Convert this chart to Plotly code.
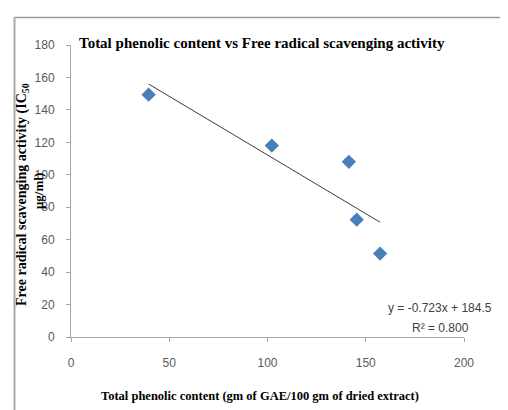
import plotly.graph_objects as go

# Data
phenolic = [39.5, 102.2, 141.4, 145.4, 157.3]
scavenging = [149.4, 118.0, 108.0, 72.3, 51.4]
slope = -0.723
intercept = 184.5
r_squared = 0.800
x_ticks = [0, 50, 100, 150, 200]
y_ticks = [0, 20, 40, 60, 80, 100, 120, 140, 160, 180]

trend_x = [min(phenolic), max(phenolic)]
trend_y = [slope * v + intercept for v in trend_x]

W, H = 508, 410
L, R, T, B = 63, 52, 37, 81
pw, ph = W - L - R, H - T - B


def px(xpix):
    return (xpix - L) / pw


def py(ypix):
    return (H - B - ypix) / ph


fig = go.Figure()
fig.add_trace(go.Scatter(x=trend_x, y=trend_y, mode="lines",
                         line=dict(color="#3a3a3a", width=1), hoverinfo="skip"))
fig.add_trace(go.Scatter(x=phenolic, y=scavenging, mode="markers",
                         marker=dict(symbol="diamond", size=11, color="#4a7ebb",
                                     line=dict(width=0))))

tick_font = dict(family="Liberation Sans, Arial, sans-serif", size=12, color="#595959")
fig.update_layout(
    width=W, height=H, margin=dict(l=L, r=R, t=T, b=B),
    paper_bgcolor="white", plot_bgcolor="white", showlegend=False,
    xaxis=dict(range=[0, 200], tickvals=x_ticks, showgrid=False, zeroline=False,
               showline=True, linecolor="#a6a6a6", linewidth=1,
               ticks="outside", ticklen=4, tickcolor="#a6a6a6",
               tickfont=tick_font, ticklabelstandoff=11),
    yaxis=dict(range=[0, 180], tickvals=y_ticks, showgrid=False, zeroline=False,
               showline=True, linecolor="#a6a6a6", linewidth=1,
               ticks="outside", ticklen=4, tickcolor="#a6a6a6",
               tickfont=tick_font, ticklabelstandoff=9),
    shapes=[
        dict(type="line", xref="paper", yref="paper",
             x0=px(6.5), x1=px(560), y0=py(9.5), y1=py(9.5),
             line=dict(color="#9a9a9a", width=1.5), layer="below"),
        dict(type="line", xref="paper", yref="paper",
             x0=px(6.5), x1=px(6.5), y0=py(9.5), y1=py(460),
             line=dict(color="#a8a8a8", width=2), layer="below"),
    ],
)

serif_bold = "Liberation Serif, Times New Roman, serif"
fig.add_annotation(text="<b>Total phenolic content vs Free radical scavenging activity</b>",
                   xref="paper", yref="paper", x=px(254), y=py(35),
                   xanchor="center", yanchor="middle", showarrow=False,
                   font=dict(family=serif_bold, size=15, color="black"))
fig.add_annotation(text="<b>Total phenolic content (gm of GAE/100 gm of dried extract)</b>",
                   xref="paper", yref="paper", x=px(252), y=py(388),
                   xanchor="center", yanchor="middle", showarrow=False,
                   font=dict(family=serif_bold, size=12.5, color="black"))
fig.add_annotation(text="<b>Free radical scavenging activity (IC<sub>50</sub></b>",
                   xref="paper", yref="paper", x=px(14), y=py(187),
                   xanchor="center", yanchor="middle", showarrow=False, textangle=-90,
                   font=dict(family=serif_bold, size=14, color="black"))
fig.add_annotation(text="<b>μg/ml)</b>",
                   xref="paper", yref="paper", x=px(30), y=py(183),
                   xanchor="center", yanchor="middle", showarrow=False, textangle=-90,
                   font=dict(family=serif_bold, size=13, color="black"))
eq_font = dict(family="Liberation Sans, Arial, sans-serif", size=12, color="#404040")
fig.add_annotation(text=f"y = {slope}x + {intercept}", xref="paper", yref="paper",
                   x=px(432), y=py(300), xanchor="center", yanchor="middle",
                   showarrow=False, font=eq_font)
fig.add_annotation(text=f"R² = {r_squared:.3f}", xref="paper", yref="paper",
                   x=px(432), y=py(320), xanchor="center", yanchor="middle",
                   showarrow=False, font=eq_font)

fig.write_html("out.html")
